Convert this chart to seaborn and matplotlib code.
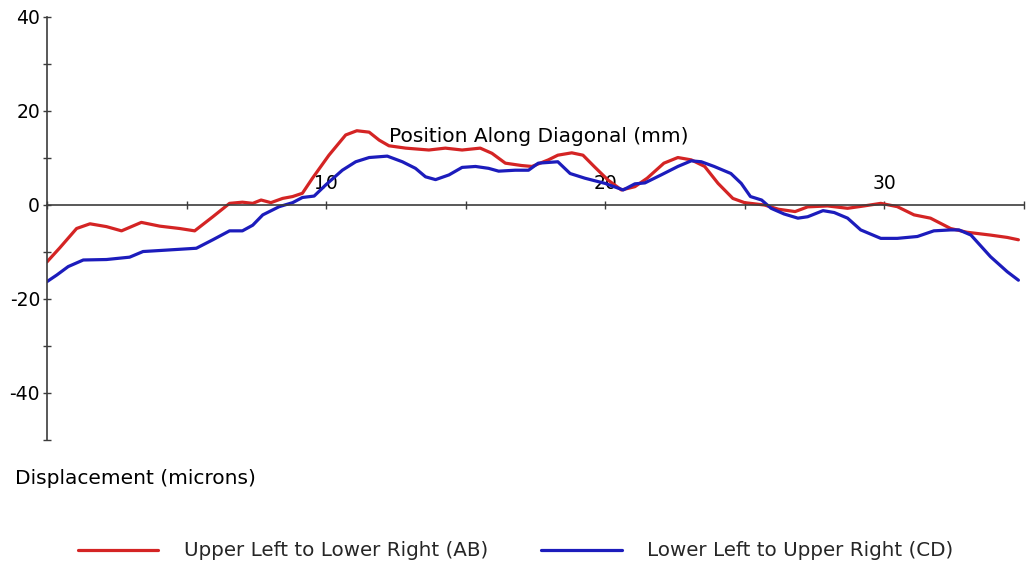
import numpy as np
import pandas as pd
import matplotlib
matplotlib.use("Agg")
import matplotlib.pyplot as plt
from matplotlib.ticker import MultipleLocator, FixedLocator
import seaborn as sns

# Displacement profiles along the two plate diagonals
ab_pos = [0, 0.46, 1.06, 1.54, 2.13, 2.67, 3.38, 4.04, 4.75, 5.29,
          5.94, 6.54, 7.0, 7.37, 7.67, 8.02, 8.44, 8.8, 9.15, 9.51,
          10.1, 10.7, 11.1, 11.54, 11.9, 12.25, 12.85, 13.68, 14.27, 14.87,
          15.52, 15.94, 16.42, 17.0, 17.37, 17.96, 18.3, 18.8, 19.2, 19.6,
          20.1, 20.58, 21.06, 21.5, 22.1, 22.6, 23.08, 23.56, 24.04, 24.57,
          24.99, 25.7, 26.2, 26.8, 27.25, 27.96, 28.68, 29.27, 29.87, 30.46,
          31.06, 31.65, 32.37, 32.96, 33.8, 34.4, 34.8]
ab_disp = [-12.1, -9.1, -5.0, -4.0, -4.6, -5.5, -3.7, -4.5, -5.0, -5.5,
           -2.5, 0.35, 0.6, 0.35, 1.06, 0.5, 1.4, 1.8, 2.5, 5.7,
           10.6, 14.9, 15.8, 15.5, 13.8, 12.6, 12.1, 11.7, 12.1, 11.7,
           12.1, 11.0, 8.9, 8.4, 8.2, 9.6, 10.6, 11.1, 10.6, 8.2,
           5.3, 3.2, 3.9, 5.7, 8.9, 10.1, 9.6, 8.2, 4.6, 1.4,
           0.5, 0.0, -0.9, -1.4, -0.4, -0.2, -0.7, -0.2, 0.35, -0.35,
           -2.1, -2.8, -5.0, -5.8, -6.4, -6.9, -7.4]

cd_pos = [0, 0.35, 0.76, 1.3, 2.13, 2.96, 3.44, 4.27, 5.35, 5.94,
          6.54, 7.0, 7.37, 7.73, 8.32, 8.8, 9.15, 9.57, 9.99, 10.58,
          11.06, 11.54, 12.19, 12.73, 13.2, 13.56, 13.92, 14.4, 14.87, 15.35,
          15.82, 16.18, 16.77, 17.25, 17.6, 18.3, 18.74, 19.27, 19.99, 20.64,
          21.06, 21.42, 22.0, 22.6, 23.08, 23.44, 23.9, 24.5, 24.87, 25.2,
          25.6, 25.94, 26.4, 26.9, 27.25, 27.8, 28.2, 28.68, 29.15, 29.87,
          30.46, 31.18, 31.77, 32.37, 32.67, 33.1, 33.8, 34.4, 34.8]
cd_disp = [-16.3, -14.9, -13.1, -11.7, -11.6, -11.1, -9.9, -9.6, -9.2, -7.4,
           -5.5, -5.5, -4.3, -2.1, -0.35, 0.5, 1.6, 1.9, 4.3, 7.4,
           9.2, 10.1, 10.4, 9.2, 7.8, 6.0, 5.4, 6.4, 8.0, 8.2,
           7.8, 7.2, 7.4, 7.4, 8.9, 9.2, 6.7, 5.7, 4.6, 3.2,
           4.5, 4.7, 6.4, 8.2, 9.4, 9.2, 8.2, 6.7, 4.6, 1.8,
           1.06, -0.7, -1.9, -2.8, -2.5, -1.2, -1.6, -2.8, -5.3, -7.1,
           -7.1, -6.7, -5.5, -5.3, -5.3, -6.4, -11.0, -14.2, -16.0]

series_names = ["Upper Left to Lower Right (AB)", "Lower Left to Upper Right (CD)"]
series_colors = ["#d42424", "#1c1cbc"]
x_major = [10, 20, 30]
y_major = [-40, -20, 0, 20, 40]

df = pd.concat([
    pd.DataFrame({"pos": ab_pos, "disp": ab_disp, "series": series_names[0]}),
    pd.DataFrame({"pos": cd_pos, "disp": cd_disp, "series": series_names[1]}),
], ignore_index=True)

sns.set_theme(style="white")
plt.rcParams["font.family"] = ["DejaVu Sans"]
plt.rcParams["axes.unicode_minus"] = False

W, H = 1029, 571
fig = plt.figure(figsize=(W / 100, H / 100), dpi=100)
ax = fig.add_axes([47 / W, 1 - 440 / H, 977 / W, 423 / H])

sns.lineplot(data=df, x="pos", y="disp", hue="series", hue_order=series_names,
             palette=series_colors, linewidth=2.3, estimator=None, sort=False, ax=ax)

ax.set_xlim(0, 35)
ax.set_ylim(-50, 40)

axis_col = "#3c3c3c"
for side in ("top", "right"):
    ax.spines[side].set_visible(False)
ax.spines["left"].set_position(("data", 0))
ax.spines["bottom"].set_position(("data", 0))
for side in ("left", "bottom"):
    ax.spines[side].set_color(axis_col)
    ax.spines[side].set_linewidth(1.2)

ax.xaxis.set_major_locator(FixedLocator(x_major))
ax.xaxis.set_minor_locator(MultipleLocator(5))
ax.yaxis.set_major_locator(FixedLocator(y_major))
ax.yaxis.set_minor_locator(MultipleLocator(10))
ax.tick_params(axis="both", which="both", direction="inout", length=6,
               width=1.0, color=axis_col, labelsize=13.5, labelcolor="black")
ax.tick_params(axis="x", which="both", bottom=True, pad=-25)
ax.tick_params(axis="y", which="both", left=True, pad=2)
ax.set_xlabel("")
ax.set_ylabel("")
ax.grid(False)

fig.text(539 / W, 1 - 137 / H, "Position Along Diagonal (mm)",
         ha="center", va="center", fontsize=14.5, color="black")
fig.text(15 / W, 1 - 479 / H, "Displacement (microns)",
         ha="left", va="center", fontsize=14.5, color="black")

handles, labels = ax.get_legend_handles_labels()
ax.legend(handles, labels, loc="center left", bbox_to_anchor=(78 / W, 1 - 551 / H),
          bbox_transform=fig.transFigure, ncol=2, frameon=False, fontsize=14.3,
          handlelength=4.05, handletextpad=1.3, columnspacing=2.65, borderpad=0,
          borderaxespad=0)

fig.savefig("out.png", dpi=100, facecolor="white")
